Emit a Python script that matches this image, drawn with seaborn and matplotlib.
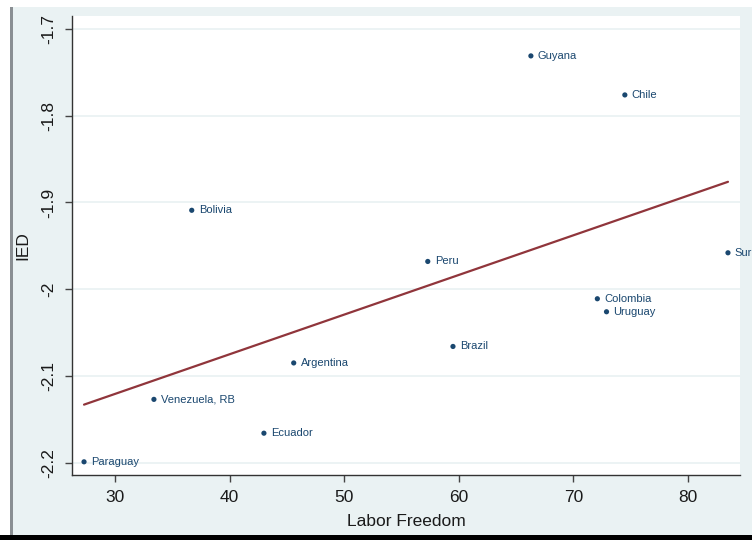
import matplotlib
matplotlib.use("Agg")
import matplotlib.pyplot as plt
from matplotlib.patches import Rectangle
import seaborn as sns
import pandas as pd

countries = ["Guyana", "Chile", "Bolivia", "Peru", "Suriname", "Colombia",
             "Uruguay", "Brazil", "Argentina", "Venezuela, RB", "Ecuador", "Paraguay"]
labor_freedom = [66.3, 74.5, 36.7, 57.3, 83.5, 72.1, 72.9, 59.5, 45.6, 33.4, 43.0, 27.3]
ied = [-1.731, -1.776, -1.909, -1.968, -1.958, -2.011, -2.026, -2.066, -2.085, -2.127, -2.166, -2.199]

x_ticks = [30, 40, 50, 60, 70, 80]
y_ticks = [-2.2, -2.1, -2.0, -1.9, -1.8, -1.7]
y_tick_labels = ["-2.2", "-2.1", "-2", "-1.9", "-1.8", "-1.7"]

df = pd.DataFrame({"country": countries, "lf": labor_freedom, "ied": ied})

sns.set_theme(style="white")
plt.rcParams["font.family"] = ["Liberation Sans", "DejaVu Sans"]

navy = "#1a476f"
maroon = "#90353b"
bg = "#eaf2f3"

fig = plt.figure(figsize=(7.52, 5.40), dpi=100)
fig.patch.set_facecolor("white")

# framed background panel with shadow edges
fig.patches.append(Rectangle((12 / 752, 5 / 540), 740 / 752, 528 / 540,
                             transform=fig.transFigure, facecolor=bg,
                             edgecolor="none", zorder=-10))
fig.patches.append(Rectangle((10 / 752, 5 / 540), 3 / 752, 528 / 540,
                             transform=fig.transFigure, facecolor="#8a8f93",
                             edgecolor="none", zorder=-9))
fig.patches.append(Rectangle((0, 0), 1, 5 / 540,
                             transform=fig.transFigure, facecolor="black",
                             edgecolor="none", zorder=-9))

ax = fig.add_axes([72 / 752, 65 / 540, 668 / 752, 459 / 540])
ax.set_facecolor("white")

sns.regplot(data=df, x="lf", y="ied", ci=None, scatter=False, ax=ax,
            line_kws={"color": maroon, "lw": 1.6, "zorder": 3})
sns.scatterplot(data=df, x="lf", y="ied", ax=ax, color=navy, s=14,
                edgecolor="none", zorder=4)

for name, xv, yv in zip(countries, labor_freedom, ied):
    ax.annotate(name, (xv, yv), xytext=(5, 0), textcoords="offset points",
                ha="left", va="center", fontsize=8, color=navy,
                annotation_clip=False, clip_on=False)

ax.set_xlim(26.25, 84.55)
ax.set_ylim(-2.2142, -1.685)
ax.set_xticks(x_ticks)
ax.set_yticks(y_ticks)
ax.set_yticklabels(y_tick_labels)

ax.grid(axis="y", color=bg, lw=1.3, zorder=0)
ax.grid(axis="x", visible=False)

for side in ["top", "right"]:
    ax.spines[side].set_visible(False)
for side in ["left", "bottom"]:
    ax.spines[side].set_color("#333333")
    ax.spines[side].set_linewidth(1.0)

ax.tick_params(axis="both", which="major", direction="out", length=5,
               width=1.0, color="#444444", labelsize=12.5, labelcolor="#1a1a1a")
ax.tick_params(axis="x", pad=6, bottom=True)
ax.tick_params(axis="y", pad=6, left=True, labelrotation=90)
for lbl in ax.get_yticklabels():
    lbl.set_va("center")

ax.set_xlabel("Labor Freedom", fontsize=12.5, color="#1a1a1a", labelpad=6)
ax.set_ylabel("IED", fontsize=12.5, color="#1a1a1a", labelpad=8)

fig.savefig("out.png", dpi=100, facecolor=fig.get_facecolor())
